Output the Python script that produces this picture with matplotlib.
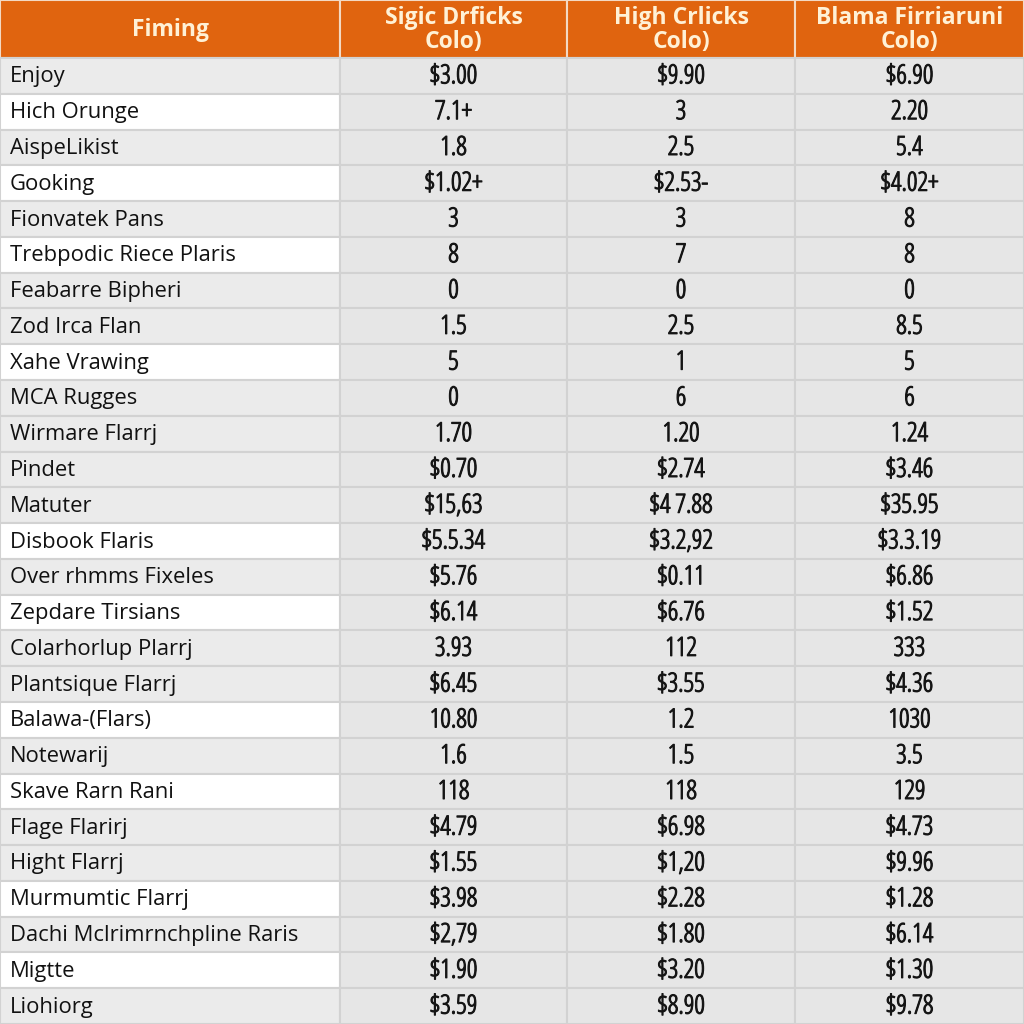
import matplotlib.pyplot as plt
import matplotlib.patheffects as pe
from matplotlib.patches import Rectangle

headers = ['Fiming', 'Sigic Drficks\nColo)', 'High Crlicks\nColo)', 'Blama Firriaruni\nColo)']

row_names = ['Enjoy', 'Hich Orunge', 'AispeLikist', 'Gooking', 'Fionvatek Pans',
             'Trebpodic Riece Plaris', 'Feabarre Bipheri', 'Zod Irca Flan', 'Xahe Vrawing',
             'MCA Rugges', 'Wirmare Flarrj', 'Pindet', 'Matuter', 'Disbook Flaris',
             'Over rhmms Fixeles', 'Zepdare Tirsians', 'Colarhorlup Plarrj',
             'Plantsique Flarrj', 'Balawa-(Flars)', 'Notewarij', 'Skave Rarn Rani',
             'Flage Flarirj', 'Hight Flarrj', 'Murmumtic Flarrj',
             'Dachi Mclrimrnchpline Raris', 'Migtte', 'Liohiorg']

sigic = ['$3.00', '7.1+', '1.8', '$1.02+', '3', '8', '0', '1.5', '5', '0', '1.70',
         '$0.70', '$15,63', '$5.5.34', '$5.76', '$6.14', '3.93', '$6.45', '10.80',
         '1.6', '118', '$4.79', '$1.55', '$3.98', '$2,79', '$1.90', '$3.59']
high = ['$9.90', '3', '2.5', '$2.53-', '3', '7', '0', '2.5', '1', '6', '1.20',
        '$2.74', '$4 7.88', '$3.2,92', '$0.11', '$6.76', '112', '$3.55', '1.2',
        '1.5', '118', '$6.98', '$1,20', '$2.28', '$1.80', '$3.20', '$8.90']
blama = ['$6.90', '2.20', '5.4', '$4.02+', '8', '8', '0', '8.5', '5', '6', '1.24',
         '$3.46', '$35.95', '$3.3.19', '$6.86', '$1.52', '333', '$4.36', '1030',
         '3.5', '129', '$4.73', '$9.96', '$1.28', '$6.14', '$1.30', '$9.78']

# rows whose name cell is white instead of grey
white_rows = [1, 3, 5, 8, 13, 15, 18, 20, 23, 25]

orange = '#e0640f'
grey = '#ebebeb'
data_grey = '#e6e6e6'
line = '#d2d2d2'

col_edges = [0, 340, 567, 795, 1024]
header_h = 58
row_h = (1024 - header_h) / len(row_names)

fig = plt.figure(figsize=(10.24, 10.24), dpi=100)
ax = fig.add_axes([0, 0, 1, 1])
ax.set_xlim(0, 1024)
ax.set_ylim(1024, 0)
ax.axis('off')

narrow = ['Open Sans', 'DejaVu Sans']
thicker = [pe.withStroke(linewidth=0.8, foreground='#151515')]

# header
for j, h in enumerate(headers):
    x0, x1 = col_edges[j], col_edges[j + 1]
    ax.add_patch(Rectangle((x0, 0), x1 - x0, header_h, facecolor=orange,
                           edgecolor='#f3d9c4', linewidth=1.5))
    ax.text((x0 + x1) / 2, header_h / 2 + 1, h, ha='center', va='center',
            fontsize=16.5, fontweight='bold', fontstretch='condensed',
            color='#fff1d6', family=narrow, linespacing=1.0)

columns = [sigic, high, blama]
for i, name in enumerate(row_names):
    y0 = header_h + i * row_h
    yc = y0 + row_h / 2
    fc = 'white' if i in white_rows else grey
    ax.add_patch(Rectangle((col_edges[0], y0), col_edges[1] - col_edges[0], row_h,
                           facecolor=fc, edgecolor=line, linewidth=1.5))
    ax.text(10, yc + 1, name, ha='left', va='center', fontsize=15.8,
            color='#111111', family=['Open Sans', 'DejaVu Sans'])
    for j, col in enumerate(columns):
        x0, x1 = col_edges[j + 1], col_edges[j + 2]
        ax.add_patch(Rectangle((x0, y0), x1 - x0, row_h, facecolor=data_grey,
                               edgecolor=line, linewidth=1.5))
        ax.text((x0 + x1) / 2, yc + 1, col[i], ha='center', va='center',
                fontsize=19, fontstretch='condensed', color='#151515',
                family=narrow, path_effects=thicker)

fig.savefig('out.png', dpi=100)
